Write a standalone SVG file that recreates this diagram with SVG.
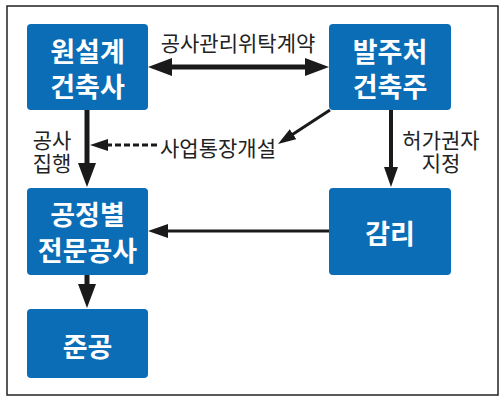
<svg xmlns="http://www.w3.org/2000/svg" width="503" height="403" viewBox="0 0 503 403">
<style>
.node rect{fill:#0b6db6;}
.node text{fill:#fff;font-family:"Noto Sans CJK KR","Noto Sans",sans-serif;font-weight:bold;font-size:27px;text-anchor:middle;}
.lbl{fill:#222;font-family:"Noto Sans CJK KR","Noto Sans",sans-serif;font-size:21px;text-anchor:middle;}
.c{stroke:#1a1a1a;fill:none;}
</style>
<defs>
<marker id="big" viewBox="0 0 24 18" refX="12" refY="9" markerWidth="24" markerHeight="18" markerUnits="userSpaceOnUse" orient="auto-start-reverse"><path d="M0,0 L24,9 L0,18 z" fill="#1a1a1a"/></marker>
<marker id="mid" viewBox="0 0 20 14" refX="10" refY="7" markerWidth="20" markerHeight="14" markerUnits="userSpaceOnUse" orient="auto"><path d="M0,0 L20,7 L0,14 z" fill="#1a1a1a"/></marker>
<marker id="small" viewBox="0 0 18 12" refX="9" refY="6" markerWidth="18" markerHeight="12" markerUnits="userSpaceOnUse" orient="auto"><path d="M0,0 L18,6 L0,12 z" fill="#1a1a1a"/></marker>
</defs>
<rect x="7" y="6" width="491" height="389" fill="#fff" stroke="#222" stroke-width="1.5"/>
<g id="connectors">
<path class="c" d="M160,67 H317" stroke-width="5" marker-start="url(#big)" marker-end="url(#big)"/>
<path class="c" d="M87,110 V175" stroke-width="5" marker-end="url(#big)"/>
<path class="c" d="M87,275 V296" stroke-width="5" marker-end="url(#big)"/>
<path class="c" d="M391,110 V177" stroke-width="4" marker-end="url(#mid)"/>
<path class="c" d="M329,231 H158" stroke-width="3" marker-end="url(#mid)"/>
<path class="c" d="M330,110 L285.5,139.1" stroke-width="3" marker-end="url(#small)"/>
<path class="c" d="M157,145 H99" stroke-width="3" stroke-dasharray="6 3" marker-end="url(#small)"/>
<text class="lbl" x="238" y="51">공사관리위탁계약</text>
<text class="lbl" x="52" y="148">공사</text>
<text class="lbl" x="52" y="171">집행</text>
<text class="lbl" x="218" y="156">사업통장개설</text>
<text class="lbl" x="441" y="148">허가권자</text>
<text class="lbl" x="441" y="171">지정</text>
</g>
<g id="n1" class="node"><rect x="27" y="24" width="121" height="86" rx="4"/><text x="87.5" y="62">원설계</text><text x="87.5" y="97">건축사</text></g>
<g id="n2" class="node"><rect x="329" y="24" width="122" height="86" rx="4"/><text x="390" y="62">발주처</text><text x="390" y="97">건축주</text></g>
<g id="n3" class="node"><rect x="27" y="188" width="121" height="87" rx="4"/><text x="87.5" y="225">공정별</text><text x="87.5" y="261">전문공사</text></g>
<g id="n4" class="node"><rect x="329" y="188" width="122" height="87" rx="4"/><text x="390" y="244">감리</text></g>
<g id="n5" class="node"><rect x="27" y="309" width="121" height="69" rx="4"/><text x="87.5" y="357">준공</text></g>
</svg>
